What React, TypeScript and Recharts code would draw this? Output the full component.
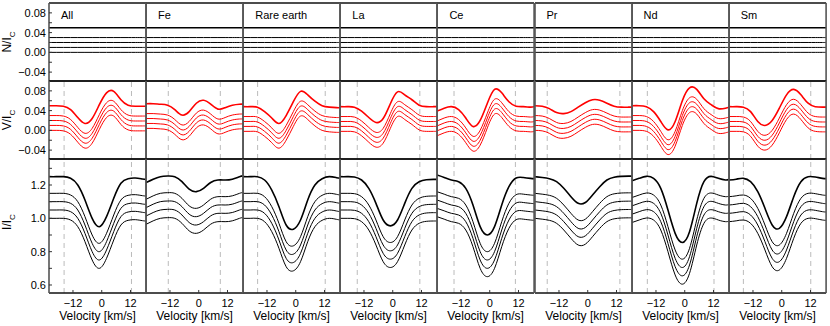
import { LineChart, Line, XAxis, YAxis, ReferenceLine } from 'recharts';

// velocity grid (km/s) the profiles were read at
const velocities = [-22, -19, -16, -13, -10, -7, -4, -1, 2, 5, 8, 11, 14, 17, 18.5];

const panelNames = ['All', 'Fe', 'Rare earth', 'La', 'Ce', 'Pr', 'Nd', 'Sm'];

// vertical offsets of the five stacked profiles
const stokesOffsets = [0.05, 0.03, 0.02, 0.01, 0];
const intensityOffsets = [1.25, 1.15, 1.1, 1.05, 1.0];

// null profile (flat)
const nullProfile = [0, 0, 0, 0, 0, 0, 0, 0, 0, 0, 0, 0, 0, 0, 0];

// Stokes V profiles
const vAll = [0, 0, -0.001, -0.008, -0.024, -0.036, -0.026, 0.002, 0.026, 0.029, 0.012, 0.001, -0.001, -0.001, -0.001];
const vFe = [0.004, 0.004, 0.003, 0.001, -0.008, -0.019, -0.012, 0.005, 0.011, 0.003, -0.007, -0.004, 0.001, 0.003, 0.003];
const vRare = [-0.002, -0.002, -0.003, -0.012, -0.025, -0.036, -0.02, 0.008, 0.029, 0.022, 0.009, 0, -0.003, -0.004, -0.004];
const vLa = [-0.002, -0.002, -0.003, -0.011, -0.024, -0.034, -0.026, 0.004, 0.028, 0.022, 0.012, 0.001, -0.002, -0.002, -0.002];
const vCe = [-0.011, -0.005, -0.002, -0.008, -0.025, -0.042, -0.03, 0.005, 0.033, 0.026, 0.008, -0.001, -0.002, -0.003, -0.002];
const vPr = [0, -0.001, -0.006, -0.014, -0.016, -0.012, -0.003, 0.006, 0.012, 0.011, 0.005, -0.001, -0.003, -0.003, -0.003];
const vNd = [0, 0, -0.002, -0.012, -0.032, -0.049, -0.032, 0.01, 0.036, 0.033, 0.014, 0.002, -0.006, -0.005, -0.003];
const vSm = [-0.002, -0.002, -0.003, -0.012, -0.032, -0.04, -0.03, -0.005, 0.022, 0.033, 0.022, 0.005, -0.002, -0.003, -0.003];

// intensity profiles (relative to the continuum offset)
const iAll = [0, 0, 0, -0.01, -0.05, -0.14, -0.25, -0.3, -0.24, -0.13, -0.04, -0.012, -0.008, -0.014, -0.016];
const iFe = [-0.036, -0.015, 0, 0.004, 0, -0.03, -0.075, -0.09, -0.07, -0.035, -0.02, -0.02, -0.015, 0, 0.005];
const iRare = [0, 0, 0, -0.02, -0.08, -0.18, -0.29, -0.315, -0.26, -0.14, -0.05, -0.012, 0, -0.006, -0.01];
const iLa = [0, 0, -0.002, -0.02, -0.07, -0.16, -0.26, -0.295, -0.26, -0.16, -0.07, -0.03, -0.018, -0.016, -0.016];
const iCe = [0.01, -0.005, -0.02, -0.03, -0.07, -0.17, -0.3, -0.35, -0.3, -0.17, -0.06, -0.008, -0.005, -0.01, -0.012];
const iPr = [0, -0.005, -0.012, -0.03, -0.07, -0.12, -0.16, -0.155, -0.11, -0.06, -0.02, -0.003, 0.002, 0.003, 0.003];
const iNd = [-0.025, -0.01, 0.002, -0.01, -0.07, -0.2, -0.34, -0.395, -0.33, -0.16, -0.03, 0.002, -0.01, -0.02, -0.016];
const iSm = [-0.02, -0.015, -0.01, -0.03, -0.09, -0.19, -0.29, -0.31, -0.24, -0.12, -0.03, 0, -0.002, -0.01, -0.012];

// dashed integration limits per panel
const limits = [
  [-15.7, 12.4],
  [-12.7, 9.0],
  [-15.9, 12.3],
  [-14.8, 11.3],
  [-14.9, 10.7],
  [-16.9, 13.4],
  [-15.6, 12.2],
  [-16.0, 12.1],
];

const velocityTicks = [-12, 0, 12];
const stokesTicks = [-0.04, -0.02, 0, 0.02, 0.04, 0.06, 0.08];
const intensityTicks = [0.6, 0.7, 0.8, 0.9, 1.0, 1.1, 1.2, 1.3];

const vProfiles = [vAll, vFe, vRare, vLa, vCe, vPr, vNd, vSm];
const iProfiles = [iAll, iFe, iRare, iLa, iCe, iPr, iNd, iSm];

const tables = panelNames.map((_, p) =>
  velocities.map((v, k) => {
    const row: Record<string, number> = { v };
    stokesOffsets.forEach((o, j) => {
      row['n' + j] = o + nullProfile[k];
      row['s' + j] = o + vProfiles[p][k];
    });
    intensityOffsets.forEach((o, j) => {
      row['i' + j] = o + iProfiles[p][k];
    });
    return row;
  })
);

const LEFT = 49;
const PW = 97.1;
const ROW_TOP = [3, 81, 159];
const ROW_H = [78, 78, 134];
const V_DOMAIN = [-22, 18.5];
const S_DOMAIN = [-0.058, 0.1];
const I_DOMAIN = [0.552, 1.356];

const minus = (s: string) => s.replace('-', '\u2212');
const fmtVel = (v: number) => minus(String(v));
const fmtStokes = (v: number) => (Math.round(v * 100) % 4 === 0 ? minus(v.toFixed(2)).replace('\u22120.00', '0.00') : '');
const fmtInt = (v: number) => (Math.round(v * 10) % 2 === 0 ? v.toFixed(1) : '');

const tickFont = { fontSize: 11, fill: '#000' };
const frameX = { stroke: '#111', strokeWidth: 1.6 };
const frameY = { stroke: '#555', strokeWidth: 1.6 };

function Panel({ col, row }: { col: number; row: number }) {
  // axes need at least 1px to be drawn, so hidden frame axes get 1px
  const axisW = col === 0 ? LEFT : 1;
  const axisH = row === 2 ? 33 : 1;
  const prefix = row === 0 ? 'n' : row === 1 ? 's' : 'i';
  const color = row === 1 ? '#ff0000' : '#000000';
  const domain = row === 2 ? I_DOMAIN : S_DOMAIN;
  const yTicks = row === 2 ? intensityTicks : stokesTicks;
  const yFmt = row === 2 ? fmtInt : fmtStokes;

  return (
    <div style={{ position: 'absolute', left: LEFT + col * PW - axisW, top: ROW_TOP[row] - 1 }}>
      <LineChart
        width={PW + axisW + 1}
        height={ROW_H[row] + axisH + 1}
        data={tables[col]}
        margin={{ top: 0, right: 0, bottom: 0, left: 0 }}
      >
        <XAxis
          dataKey="v"
          type="number"
          domain={V_DOMAIN}
          ticks={velocityTicks}
          allowDataOverflow
          interval={0}
          height={axisH}
          tickSize={-3}
          tickMargin={9}
          tick={row === 2 ? tickFont : false}
          tickFormatter={fmtVel}
          axisLine={frameX}
          tickLine={{ stroke: '#333' }}
          label={row === 2 ? { value: 'Velocity [km/s]', position: 'insideBottom', offset: 6, fontSize: 12, fill: '#000' } : undefined}
        />
        <XAxis
          xAxisId="top"
          orientation="top"
          dataKey="v"
          type="number"
          domain={V_DOMAIN}
          ticks={velocityTicks}
          allowDataOverflow
          height={1}
          tickSize={-3}
          tick={false}
          axisLine={frameX}
          tickLine={{ stroke: '#333' }}
        />
        <YAxis
          type="number"
          domain={domain}
          ticks={yTicks}
          allowDataOverflow
          interval={0}
          width={axisW}
          tickSize={-3}
          tickMargin={6}
          tick={col === 0 ? tickFont : false}
          tickFormatter={yFmt}
          axisLine={frameY}
          tickLine={{ stroke: '#333' }}
        />
        <YAxis
          yAxisId="right"
          orientation="right"
          type="number"
          domain={domain}
          ticks={yTicks}
          allowDataOverflow
          width={1}
          tickSize={-3}
          tick={false}
          axisLine={frameY}
          tickLine={{ stroke: '#333' }}
        />
        {row > 0 &&
          limits[col].map((x) => (
            <ReferenceLine key={x} x={x} stroke="#bbbbbb" strokeDasharray="5 4" strokeWidth={1} />
          ))}
        {[4, 3, 2, 1, 0].map((j) => (
          <Line
            key={j}
            dataKey={prefix + j}
            type="natural"
            stroke={color}
            strokeWidth={j === 0 ? 1.6 : 1}
            dot={false}
            isAnimationActive={false}
          />
        ))}
      </LineChart>
    </div>
  );
}

const yLabels = [
  { name: 'N', y: 42 },
  { name: 'V', y: 120 },
  { name: 'I', y: 222 },
];

export default function App() {
  return (
    <div
      style={{
        position: 'absolute',
        left: 0,
        top: 0,
        width: 830,
        height: 326,
        background: '#fff',
        fontFamily: "'Liberation Sans', Arial, sans-serif",
        overflow: 'hidden',
      }}
    >
      {[0, 1, 2].map((row) => panelNames.map((_, col) => <Panel key={row + '-' + col} col={col} row={row} />))}
      {panelNames.map((name, col) => (
        <div
          key={name}
          style={{ position: 'absolute', left: LEFT + col * PW + 12, top: 9, fontSize: 11, lineHeight: '12px' }}
        >
          {name}
        </div>
      ))}
      {yLabels.map((l) => (
        <div
          key={l.name}
          style={{
            position: 'absolute',
            left: 10,
            top: l.y,
            transform: 'translate(-50%, -50%) rotate(-90deg)',
            fontSize: 12,
            lineHeight: '12px',
            whiteSpace: 'nowrap',
          }}
        >
          {l.name}/I<sub style={{ fontSize: 8 }}>C</sub>
        </div>
      ))}
    </div>
  );
}
